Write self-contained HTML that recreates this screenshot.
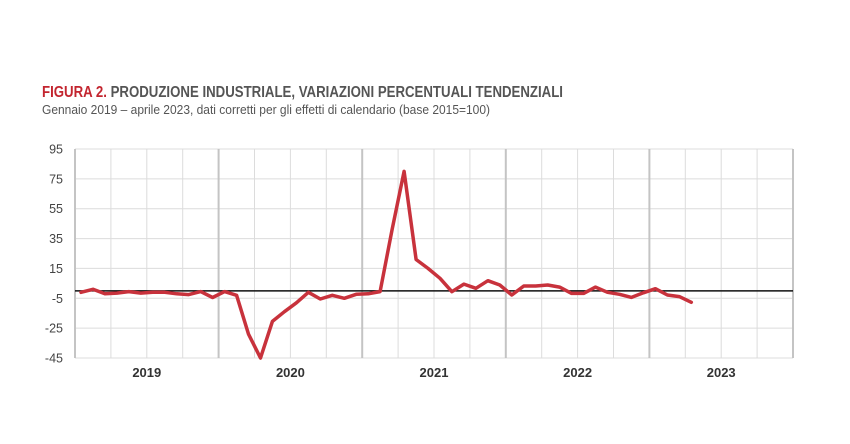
<!DOCTYPE html>
<html><head><meta charset="utf-8"><style>
html,body{margin:0;padding:0;background:#fff;}
svg{display:block;font-family:"Liberation Sans",sans-serif;}
</style></head><body>
<svg width="850" height="444" viewBox="0 0 850 444">
<text x="42" y="97" font-size="16" font-weight="bold" fill="#555" textLength="521" lengthAdjust="spacingAndGlyphs"><tspan fill="#c3252f">FIGURA 2.</tspan> PRODUZIONE INDUSTRIALE, VARIAZIONI PERCENTUALI TENDENZIALI</text>
<text x="42" y="114" font-size="13" fill="#555" textLength="448" lengthAdjust="spacingAndGlyphs">Gennaio 2019 – aprile 2023, dati corretti per gli effetti di calendario (base 2015=100)</text>
<g id="grid"></g>
<g id="axes"></g>
<g id="series"></g>
</svg>
<script>
const yTicks = [95, 75, 55, 35, 15, -5, -25, -45];
const years = ["2019", "2020", "2021", "2022", "2023"];
const values = [-1, 1, -2, -1.5, -0.5, -1.5, -1, -1, -2, -2.5, -0.5, -4.5,
  -0.5, -3, -29, -45, -20.5, -14, -8, -1, -5.5, -3, -5, -2.3,
  -2, -0.5, 41, 80, 21, 15, 8.4, -0.6, 4.5, 1.7, 6.8, 3.9,
  -2.8, 3.2, 3.2, 3.9, 2.5, -1.7, -1.7, 2.5, -1, -2.3, -4.4, -1.3,
  1.4, -2.8, -3.9, -7.7];

const NS = "http://www.w3.org/2000/svg";
const X0 = 75, X1 = 793, Y0 = 149, Y1 = 358;
const yMax = 95, yMin = -45;
const monthsTotal = years.length * 12;
const mw = (X1 - X0) / monthsTotal;
function xPos(i){ return X0 + (i + 0.5) * mw; }
function yPos(v){ return Y0 + (yMax - v) / (yMax - yMin) * (Y1 - Y0); }
function mk(tag, attrs, parent){ const e = document.createElementNS(NS, tag); for (const k in attrs) e.setAttribute(k, attrs[k]); parent.appendChild(e); return e; }

const grid = document.getElementById("grid");
const axes = document.getElementById("axes");
const series = document.getElementById("series");

yTicks.forEach(t => {
  const y = yPos(t);
  const l = mk("line", {x1: X0, x2: X1, y1: y, y2: y, stroke: "#dcdcdc", "stroke-width": 1}, grid);
  
  
  const tx = mk("text", {x: 63, y: y + 4.5, "text-anchor": "end", "font-size": 12.5, fill: "#444"}, axes);
  tx.textContent = t;
  
  
});
for (let q = 0; q <= years.length * 4; q++) {
  const x = X0 + q * 3 * mw;
  const major = q % 4 === 0;
  const l = mk("line", {x1: x, x2: x, y1: Y0, y2: Y1, stroke: major ? "#c4c4c4" : "#dcdcdc", "stroke-width": major ? 2 : 1}, grid);
  
  
}
years.forEach((yr, k) => {
  const tx = mk("text", {x: X0 + (k * 12 + 6) * mw, y: 377, "text-anchor": "middle", "font-size": 13, "font-weight": "bold", fill: "#333"}, axes);
  tx.textContent = yr;
  
  
});
const zero = mk("line", {x1: X0, x2: X1, y1: yPos(0), y2: yPos(0), stroke: "#111", "stroke-width": 1.5}, axes);



const pts = values.map((v, i) => xPos(i).toFixed(1) + "," + yPos(v).toFixed(1)).join(" ");
const pl = mk("polyline", {points: pts, fill: "none", stroke: "#c8323c", "stroke-width": 3.5, "stroke-linejoin": "round", "stroke-linecap": "round"}, series);


</script>
</body></html>
